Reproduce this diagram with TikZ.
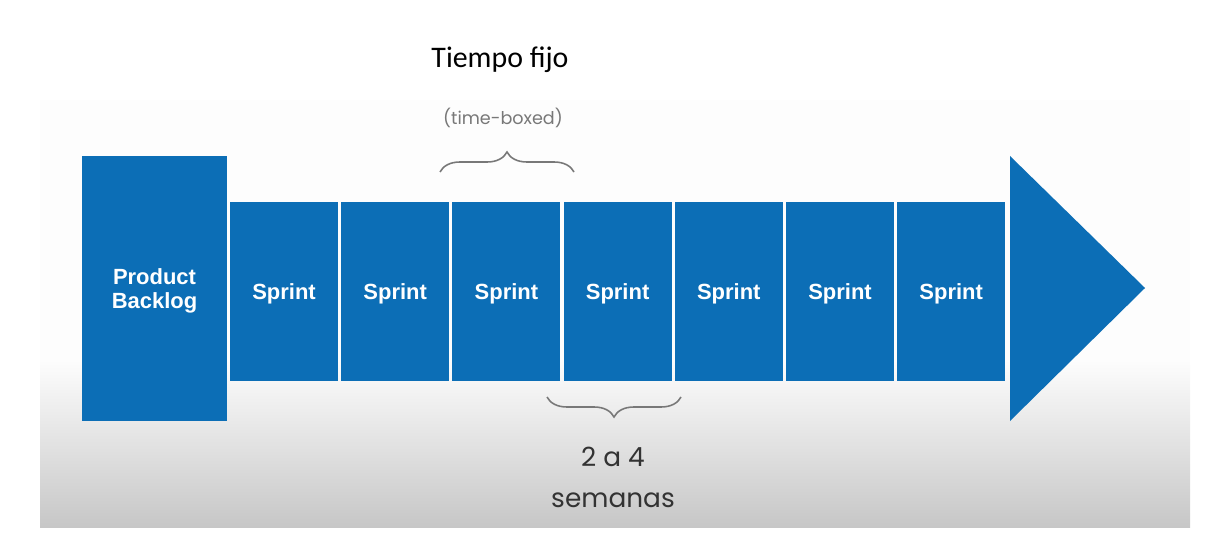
\documentclass[tikz,border=0pt]{standalone}
\usepackage{fontspec}
\setmainfont{Carlito}
\newfontfamily\boxfont{Liberation Sans}
\newfontfamily\handfont{Poppins}
\usepackage{xcolor}
\usetikzlibrary{arrows.meta, positioning, calc, decorations.pathreplacing}

\definecolor{scrumblue}{RGB}{12,110,182}
\definecolor{pencil}{RGB}{120,120,120}

\begin{document}
\begin{tikzpicture}[>=Stealth,
  bluebox/.style={fill=scrumblue, draw=none, inner sep=0pt, text=white, font=\boxfont\bfseries\fontsize{12.5}{14.5}\selectfont, align=center, text depth=0pt},
  handbrace/.style={decorate, decoration={brace, amplitude=0.4cm}, pencil, line width=0.9pt}]
  \useasboundingbox (0,0) rectangle (24.22,10.76);
  % --- Background panel ---
  \fill[gray!1.5] (0.8,3.56) rectangle (23.8,8.76);
  \shade[top color=gray!1.5, bottom color=black!22] (0.8,0.22) rectangle (23.8,3.56);

  % --- Title ---
  \node[font=\fontsize{17}{20}\selectfont] (title) at (10.0,9.56) {Tiempo fijo};

  % --- Backlog ---
  \node[bluebox, minimum width=2.9cm, minimum height=5.3cm] (backlog) at (3.09,4.99) {Product\\[-1pt]Backlog};

  % --- Sprints ---
  \foreach \i in {1,...,7}
    \node[bluebox, minimum width=2.16cm, minimum height=3.58cm] (s\i) at ({5.68+2.224*(\i-1)},4.93) {Sprint};

  % --- Arrow head ---
  \fill[scrumblue] (20.2,7.64) -- (22.9,5.0) -- (20.2,2.34) -- cycle;

  % --- Time-boxed brace (upper) ---
  \coordinate (tbL) at (8.8,7.32);
  \coordinate (tbR) at (11.48,7.32);
  \draw[handbrace] (tbL) -- (tbR);
  \node[font=\handfont\fontsize{10}{12}\selectfont, text=pencil] (tbox) at (10.06,8.4) {(time-boxed)};

  % --- Duration brace (lower) ---
  \coordinate (wkL) at (10.94,2.82);
  \coordinate (wkR) at (13.62,2.82);
  \draw[handbrace] (wkR) -- (wkL);
  \node[font=\handfont\fontsize{15}{18}\selectfont, text=black!80] (range) at (12.26,1.62) {2 a 4};
  \node[font=\handfont\fontsize{15}{18}\selectfont, text=black!80] (weeks) at (12.26,0.76) {semanas};
\end{tikzpicture}
\end{document}
